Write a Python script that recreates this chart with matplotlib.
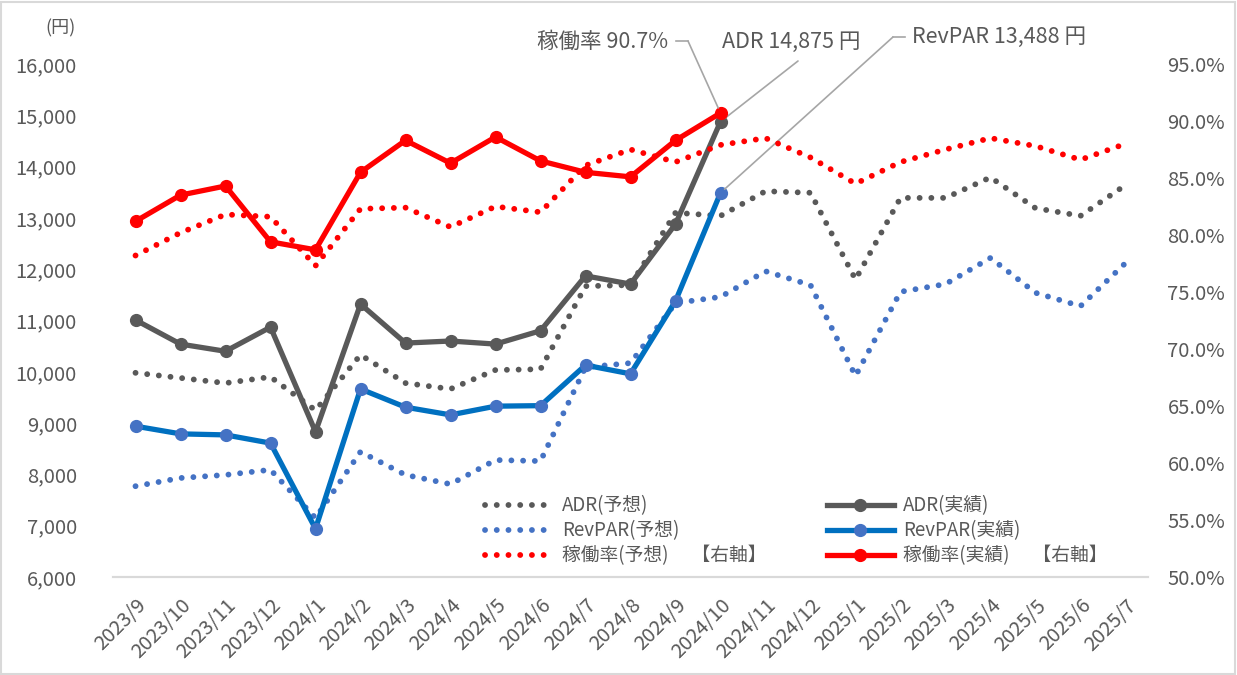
#ADR / RevPAR / occupancy chart: actual vs forecast

import matplotlib
matplotlib.use('Agg')
import matplotlib.pyplot as plt
from matplotlib.lines import Line2D
from matplotlib.patches import Rectangle
from matplotlib.ticker import FuncFormatter

plt.rcParams['font.family'] = ['Noto Sans CJK JP', 'DejaVu Sans']

#Data

months = ['2023/9', '2023/10', '2023/11', '2023/12', '2024/1', '2024/2', '2024/3',
          '2024/4', '2024/5', '2024/6', '2024/7', '2024/8', '2024/9', '2024/10',
          '2024/11', '2024/12', '2025/1', '2025/2', '2025/3', '2025/4', '2025/5',
          '2025/6', '2025/7']

adr_actual = [11010, 10540, 10400, 10870, 8830, 11320, 10560, 10600, 10540, 10800,
              11870, 11710, 12880, 14875]
revpar_actual = [8940, 8790, 8770, 8610, 6940, 9665, 9310, 9160, 9330, 9340,
                 10130, 9960, 11380, 13488]
occ_actual = [81.2, 83.5, 84.3, 79.4, 78.7, 85.5, 88.3, 86.3, 88.6, 86.5,
              85.5, 85.1, 88.3, 90.7]

adr_forecast = [9980, 9880, 9780, 9900, 9250, 10330, 9780, 9665, 10035, 10050,
                11670, 11690, 13100, 13040, 13520, 13490, 11800, 13390, 13390,
                13790, 13190, 13040, 13640]
revpar_forecast = [7770, 7930, 7990, 8090, 7150, 8440, 7990, 7810, 8280, 8260,
                   10090, 10170, 11340, 11460, 11960, 11690, 9920, 11560, 11710,
                   12220, 11540, 11280, 12120]
occ_forecast = [78.2, 80.2, 81.8, 81.6, 77.3, 82.3, 82.4, 80.7, 82.5, 82.0,
                86.1, 87.5, 86.4, 87.9, 88.5, 86.8, 84.5, 86.4, 87.5, 88.5,
                87.8, 86.6, 88.0]

label_texts = ['稼働率 90.7%', 'ADR 14,875 円', 'RevPAR 13,488 円']

#Colours

grey = '#595959'
blue_line = '#0070C0'
blue_dot = '#4472C4'
red = '#FF0000'
text_col = '#595959'
axis_col = '#D9D9D9'

W, H = 1237, 675
fig = plt.figure(figsize=(W / 100, H / 100), dpi=100)
ax = fig.add_axes([113 / W, 1 - 577 / H, (1148 - 113) / W, (577 - 64) / H])
ax2 = ax.twinx()

x_all = list(range(len(months)))
x_act = list(range(len(adr_actual)))

dot = (0, (0.01, 2.0))
lw_dot = 4.2
lw_sol = 3.8
ms = 8.5

l1, = ax.plot(x_all, adr_forecast, color=grey, lw=lw_dot, ls=dot,
              dash_capstyle='round', label='ADR(予想)')
l2, = ax.plot(x_all, revpar_forecast, color=blue_dot, lw=lw_dot, ls=dot,
              dash_capstyle='round', label='RevPAR(予想)')
l4, = ax.plot(x_act, adr_actual, color=grey, lw=lw_sol, marker='o', ms=ms,
              mfc=grey, mec=grey, label='ADR(実績)')
l5, = ax.plot(x_act, revpar_actual, color=blue_line, lw=lw_sol, marker='o', ms=ms,
              mfc=blue_dot, mec=blue_dot, label='RevPAR(実績)')
l3, = ax2.plot(x_all, occ_forecast, color=red, lw=lw_dot, ls=dot,
               dash_capstyle='round', label='稼働率(予想)　 【右軸】')
l6, = ax2.plot(x_act, occ_actual, color=red, lw=lw_sol, marker='o', ms=ms,
               mfc=red, mec=red, label='稼働率(実績)　 【右軸】')

ax.set_xlim(-0.5, len(months) - 0.5)
ax.set_ylim(6000, 16000)
ax2.set_ylim(50, 95)
ax.set_yticks(range(6000, 16001, 1000))
ax2.set_yticks(range(50, 96, 5))
ax.yaxis.set_major_formatter(FuncFormatter(lambda v, p: f'{int(v):,}'))
ax2.yaxis.set_major_formatter(FuncFormatter(lambda v, p: f'{v:.1f}%'))

ax.set_xticks(x_all)
ax.set_xticklabels(months, rotation=45, ha='right', rotation_mode='anchor')

for a in (ax, ax2):
    for s in ('top', 'left', 'right'):
        a.spines[s].set_visible(False)
    a.spines['bottom'].set_color(axis_col)
    a.spines['bottom'].set_linewidth(1.5)
    a.tick_params(length=0, labelsize=14.5, labelcolor=text_col)
    a.set_facecolor('none')
ax.tick_params(axis='y', pad=26)
ax2.tick_params(axis='y', pad=14)
ax.tick_params(axis='x', pad=13)

#Legend

leg = ax2.legend(handles=[l1, l2, l3, l4, l5, l6], ncol=2, frameon=False,
                 loc='upper left', bbox_to_anchor=(472 / W, 1 - 482 / H),
                 bbox_transform=fig.transFigure, fontsize=13.5,
                 handlelength=3.6, handletextpad=0.5, labelspacing=0.22,
                 columnspacing=3.2, borderpad=0.2)
for t in leg.get_texts():
    t.set_color(text_col)

#Data labels with leader lines

lead = '#A6A6A6'
fig.text(45 / W, 1 - 28 / H, '(円)', fontsize=13, color=text_col, va='center')
fig.text(668 / W, 1 - 42 / H, label_texts[0], fontsize=15.5, color=text_col,
         ha='right', va='center')
fig.text(722 / W, 1 - 42 / H, label_texts[1], fontsize=15.5, color=text_col,
         ha='left', va='center')
fig.text(912 / W, 1 - 37 / H, label_texts[2], fontsize=15.5, color=text_col,
         ha='left', va='center')

fig.add_artist(Line2D([676 / W, 688 / W], [1 - 41 / H, 1 - 41 / H], color=lead, lw=1.2))
fig.add_artist(Line2D([893 / W, 905 / W], [1 - 37 / H, 1 - 37 / H], color=lead, lw=1.2))
last = len(adr_actual) - 1
ax2.annotate('', xy=(last, occ_actual[-1]), xytext=(688, H - 41), textcoords='figure pixels',
             arrowprops=dict(arrowstyle='-', color=lead, lw=1.2, shrinkA=0, shrinkB=4))
ax.annotate('', xy=(last, adr_actual[-1]), xytext=(798, H - 61), textcoords='figure pixels',
            arrowprops=dict(arrowstyle='-', color=lead, lw=1.2, shrinkA=0, shrinkB=4))
ax.annotate('', xy=(last, revpar_actual[-1]), xytext=(893, H - 37), textcoords='figure pixels',
            arrowprops=dict(arrowstyle='-', color=lead, lw=1.2, shrinkA=0, shrinkB=4))

fig.add_artist(Rectangle((1 / W, 1 / H), 1 - 3 / W, 1 - 3 / H, transform=fig.transFigure,
                         fill=False, edgecolor=axis_col, lw=1.5))

fig.savefig('out.png', dpi=100)
